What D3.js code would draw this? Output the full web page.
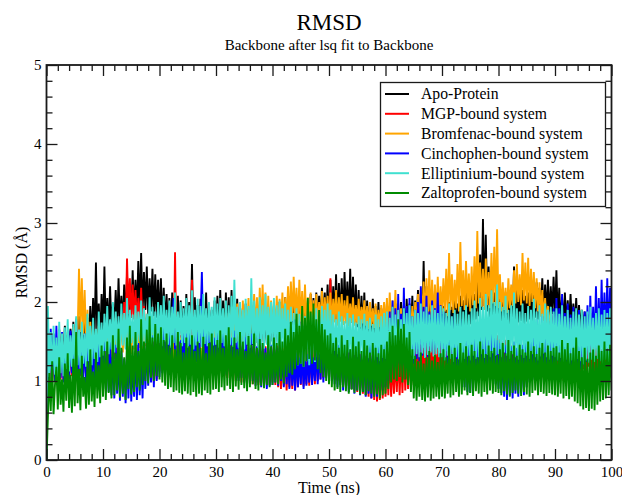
<!DOCTYPE html>
<html><head><meta charset="utf-8">
<script src="https://cdn.jsdelivr.net/npm/d3@7"></script>
<style>
html,body{margin:0;padding:0;background:#fff;}
svg{display:block;font-family:"Liberation Serif","Times New Roman",Times,serif;}
</style>
</head><body>
<svg id="c" width="622" height="495"></svg>
<script>
// ---------- data ----------
const TIME_STEP = 0.25; // ns between samples
const xTicks = [0,10,20,30,40,50,60,70,80,90,100];
const yTicks = [0,1,2,3,4,5];
const seriesNames = ["Apo-Protein","MGP-bound system","Bromfenac-bound system","Cinchophen-bound system","Elliptinium-bound system","Zaltoprofen-bound system"];
const seriesColors = ["#000000","#ff0000","#ffa500","#0000ff","#40e0d0","#008b00"];

const apo = [
0.00,1.40,1.20,1.52,1.22,1.60,1.25,1.48,1.28,1.65,1.30,1.55,1.32,1.70,1.35,1.58,1.38,1.66,1.34,1.75,
1.40,1.68,1.36,1.82,1.42,1.72,1.45,1.90,1.48,1.80,1.44,1.95,1.50,2.05,1.52,2.50,1.55,1.98,1.50,2.10,
1.60,2.45,1.58,2.05,1.62,2.20,1.65,1.98,1.68,2.15,1.64,2.30,1.70,2.08,1.72,2.22,1.75,2.35,1.78,2.12,
1.80,2.40,1.82,2.28,1.85,2.52,1.88,2.62,1.86,2.38,1.90,2.45,1.84,2.30,1.88,2.42,1.82,2.35,1.80,2.28,
1.75,2.30,1.70,2.18,1.68,2.10,1.65,2.05,1.62,2.12,1.60,1.98,1.58,2.08,1.56,2.02,1.55,1.95,1.58,2.10,
1.54,2.00,1.56,2.48,1.52,2.06,1.55,1.96,1.50,2.04,1.54,1.92,1.52,2.12,1.50,1.98,1.53,1.90,1.50,2.02,
1.55,2.08,1.52,2.15,1.56,2.02,1.50,2.12,1.54,2.06,1.52,2.15,1.48,1.98,1.50,2.04,1.46,1.95,1.50,1.92,
1.48,1.98,1.45,1.90,1.50,1.96,1.46,1.88,1.48,1.94,1.44,1.90,1.47,1.98,1.45,1.92,1.48,1.88,1.46,1.95,
1.50,1.95,1.48,1.88,1.52,2.00,1.50,1.92,1.54,2.06,1.52,1.95,1.55,1.90,1.53,2.02,1.56,1.98,1.58,2.06,
1.55,1.94,1.60,2.04,1.58,1.98,1.62,2.10,1.60,2.05,1.64,2.12,1.66,2.08,1.68,2.18,1.70,2.12,1.72,2.22,
1.72,2.28,1.74,2.20,1.76,2.35,1.72,2.24,1.78,2.30,1.75,2.38,1.80,2.26,1.76,2.42,1.74,2.32,1.72,2.22,
1.68,2.15,1.65,2.08,1.62,2.12,1.60,2.02,1.58,1.96,1.60,2.04,1.56,1.95,1.55,2.00,1.54,1.92,1.52,1.98,
1.50,1.88,1.48,1.95,1.52,1.90,1.50,1.98,1.54,1.92,1.55,2.00,1.58,1.96,1.56,2.04,1.60,1.98,1.62,2.08,
1.58,2.02,1.64,2.15,1.62,2.10,1.66,2.52,1.64,2.20,1.60,2.08,1.62,2.02,1.58,2.05,1.56,1.96,1.55,2.00,
1.55,1.95,1.52,1.90,1.56,2.00,1.58,1.94,1.60,2.05,1.62,1.98,1.64,2.08,1.66,2.02,1.68,2.12,1.70,2.06,
1.72,2.15,1.74,2.10,1.78,2.25,1.82,2.60,1.90,3.05,1.95,2.85,1.88,2.45,1.78,2.20,1.74,2.12,1.72,2.08,
1.65,2.10,1.62,2.02,1.64,2.12,1.66,2.05,1.68,2.18,1.70,2.45,1.72,2.20,1.74,2.10,1.76,2.15,1.72,2.08,
1.75,2.12,1.78,2.20,1.74,2.16,1.80,2.25,1.78,2.18,1.82,2.30,1.80,2.22,1.84,2.28,1.82,2.20,1.85,2.32,
1.80,2.40,1.76,2.18,1.72,2.06,1.70,2.12,1.68,2.02,1.72,2.10,1.70,1.98,1.66,2.05,1.64,1.96,1.62,1.90,
1.60,1.88,1.58,1.84,1.56,1.86,1.54,1.80,1.52,1.84,1.50,1.78,1.52,1.82,1.48,1.76,1.50,1.80,1.48,1.82,1.50];

const mgp = [
0.00,1.20,0.95,1.35,0.98,1.28,1.00,1.40,0.97,1.32,1.02,1.44,1.00,1.30,1.04,1.38,1.02,1.46,1.06,1.34,
1.05,1.42,1.08,1.36,1.06,1.48,1.10,1.38,1.08,1.45,1.12,1.40,1.10,1.50,1.14,1.42,1.12,1.52,1.15,1.46,
1.18,1.50,1.20,1.56,1.22,1.48,1.25,1.62,1.28,1.58,1.30,1.70,1.40,1.85,1.50,2.00,1.60,2.55,1.85,2.30,
1.80,2.22,1.78,2.15,1.75,2.05,1.70,2.18,1.65,1.95,1.55,1.80,1.20,1.45,1.00,1.38,0.98,1.42,1.02,1.50,
1.12,1.55,1.15,1.60,1.18,1.52,1.20,1.62,1.22,1.75,1.26,2.63,1.30,1.70,1.28,1.58,1.25,1.62,1.30,1.55,
1.32,1.65,1.35,2.28,1.30,1.48,1.15,1.38,1.08,1.32,1.05,1.40,1.06,1.28,1.08,1.35,1.10,1.42,1.12,1.48,
1.12,1.48,1.08,1.52,1.10,1.44,1.06,1.50,1.04,1.42,1.08,1.46,1.02,1.48,1.00,1.40,1.04,1.45,0.98,1.42,
1.00,1.46,0.97,1.38,1.02,1.44,0.96,1.40,0.98,1.36,0.95,1.42,0.97,1.38,0.94,1.44,0.96,1.40,0.95,1.36,
0.98,1.40,0.95,1.45,0.92,1.38,0.90,1.42,0.94,1.36,0.88,1.40,0.92,1.35,0.90,1.44,0.88,1.38,0.92,2.05,
0.95,1.42,0.93,1.38,0.96,1.46,0.94,1.40,0.98,1.50,0.96,1.44,1.00,1.48,1.02,1.42,1.04,1.52,1.06,1.60,
1.08,2.30,1.05,1.55,1.02,1.48,1.00,1.45,0.98,1.42,0.95,1.46,0.92,1.40,0.94,1.38,0.90,1.42,0.88,1.35,
0.86,1.40,0.88,1.34,0.84,1.38,0.82,1.30,0.80,1.34,0.78,1.28,0.76,1.32,0.74,1.26,0.76,1.30,0.78,1.25,
0.80,1.28,0.82,1.34,0.80,1.25,0.84,1.30,0.86,1.36,0.82,1.32,0.85,1.40,0.88,1.35,0.90,1.42,0.92,1.38,
0.95,1.45,0.98,1.40,1.00,1.46,1.02,1.42,1.04,1.48,1.00,1.44,1.02,1.50,1.05,1.46,1.03,1.42,1.06,1.48,
1.05,1.42,1.08,1.38,1.06,1.45,1.10,1.40,1.08,1.44,1.12,1.38,1.10,1.46,1.14,1.42,1.12,1.48,1.16,1.44,
1.18,1.50,1.20,1.56,1.22,1.52,1.24,1.60,1.26,1.58,1.28,1.64,1.25,1.60,1.28,1.66,1.24,1.62,1.22,1.58,
1.20,1.55,1.22,1.50,1.18,1.52,1.20,1.48,1.16,1.45,1.12,1.40,1.10,1.36,1.08,1.38,1.05,1.32,1.06,1.35,
1.04,1.30,1.02,1.34,1.05,1.28,1.00,1.32,1.03,1.36,1.00,1.30,1.04,1.34,1.02,1.28,1.06,1.32,1.04,1.36,
1.06,1.38,1.04,1.32,1.02,1.36,1.00,1.30,1.04,1.34,1.02,1.38,1.06,1.32,1.08,1.40,1.10,1.36,1.12,1.44,
1.15,1.48,1.12,1.52,1.18,1.45,1.14,1.50,1.10,1.42,1.12,1.46,1.08,1.40,1.10,1.38,1.06,1.42,1.08,1.36,1.10];

const bromfenac = [
0.00,1.32,1.12,1.48,1.15,1.40,1.18,1.55,1.20,1.45,1.22,1.58,1.25,1.50,1.28,1.62,1.30,1.55,1.35,1.68,
1.40,1.80,1.55,2.42,1.62,2.30,1.58,2.15,1.48,1.90,1.40,1.75,1.32,1.66,1.30,1.58,1.34,1.70,1.28,1.62,
1.32,1.70,1.28,1.64,1.35,1.76,1.30,1.68,1.38,1.80,1.33,1.72,1.40,1.84,1.36,1.74,1.42,1.70,1.38,1.82,
1.34,1.75,1.40,1.86,1.36,1.72,1.42,1.80,1.38,1.78,1.44,1.85,1.40,1.74,1.45,1.82,1.38,1.76,1.42,1.84,
1.40,1.78,1.36,1.72,1.38,1.80,1.34,1.70,1.32,1.66,1.28,1.62,1.30,1.58,1.25,1.55,1.22,1.50,1.18,1.46,
1.15,1.42,1.12,1.38,1.10,1.44,1.08,1.40,1.12,1.46,1.15,1.50,1.20,1.48,1.25,1.55,1.30,1.62,1.34,1.70,
1.40,1.78,1.44,1.84,1.48,1.80,1.46,1.90,1.50,1.86,1.52,1.94,1.48,1.88,1.54,1.98,1.56,1.92,1.52,2.02,
1.58,1.96,1.55,2.05,1.60,2.00,1.57,2.10,1.62,2.06,1.60,2.18,1.64,2.22,1.60,2.12,1.58,2.08,1.62,2.02,
1.60,2.00,1.64,2.08,1.68,2.04,1.70,2.12,1.66,2.06,1.72,2.20,1.74,2.26,1.76,2.32,1.78,2.18,1.72,2.28,
1.75,2.14,1.70,2.22,1.68,2.06,1.72,2.12,1.66,2.02,1.70,2.10,1.68,2.00,1.72,2.14,1.70,2.06,1.74,2.08,
1.72,2.12,1.68,2.04,1.74,2.15,1.70,2.06,1.75,2.10,1.71,2.02,1.73,2.08,1.69,1.98,1.74,2.06,1.70,1.96,
1.72,2.04,1.68,1.94,1.73,2.02,1.70,1.95,1.66,2.00,1.70,1.92,1.67,1.98,1.64,1.90,1.68,1.96,1.65,2.00,
1.64,2.05,1.62,2.12,1.66,2.02,1.60,2.15,1.64,1.98,1.58,1.92,1.55,1.88,1.58,1.85,1.52,1.90,1.56,1.95,
1.62,2.00,1.68,2.10,1.72,2.18,1.76,2.26,1.74,2.30,1.78,2.40,1.80,2.28,1.76,2.22,1.78,2.32,1.80,2.20,
1.85,2.30,1.88,2.42,1.82,2.62,1.90,2.35,1.86,2.28,1.92,2.48,1.88,2.76,1.95,2.40,1.90,2.52,1.94,2.36,
1.88,2.45,1.96,2.58,1.92,2.90,1.98,2.50,1.94,2.42,1.90,2.55,1.96,2.38,1.92,2.62,1.98,2.70,1.95,2.92,
1.92,2.35,1.88,2.25,1.90,2.18,1.86,2.30,1.92,2.22,1.95,2.40,1.98,2.48,2.00,2.35,1.96,2.62,2.02,2.50,
1.98,2.56,1.95,2.42,2.00,2.38,1.92,2.30,1.88,2.25,1.82,2.15,1.76,2.05,1.70,1.95,1.65,1.88,1.60,1.85,
1.55,1.82,1.50,1.76,1.52,1.72,1.48,1.78,1.46,1.70,1.50,1.75,1.44,1.68,1.48,1.74,1.42,1.70,1.46,1.78,
1.40,1.72,1.44,1.66,1.42,1.74,1.46,1.70,1.40,1.76,1.45,1.82,1.48,1.74,1.44,1.80,1.50,1.76,1.46,1.78,1.50];

const cinchophen = [
0.00,1.45,1.02,1.66,1.05,1.58,1.00,1.70,1.08,1.52,1.04,1.62,0.98,1.48,1.06,1.56,1.02,1.64,1.10,1.50,
1.04,1.78,1.00,1.55,1.08,1.46,1.02,1.60,0.96,1.52,1.05,1.42,1.00,1.58,0.94,1.48,1.02,1.54,0.98,1.62,
0.95,1.50,0.90,1.42,0.86,1.55,0.82,1.38,0.78,1.46,0.84,1.30,0.75,1.40,0.80,1.28,0.72,1.36,0.78,1.44,
0.74,1.25,0.80,1.38,0.76,1.48,0.82,1.34,0.78,1.42,0.90,1.52,0.94,1.46,0.98,1.58,0.92,1.62,1.00,1.55,
1.05,1.62,1.10,1.70,1.08,1.55,1.12,1.66,1.15,1.58,2.05,1.40,1.12,1.64,1.18,1.52,1.14,1.72,1.20,1.60,
1.16,1.68,1.22,1.56,1.18,1.74,1.24,1.62,1.20,1.70,2.38,1.50,1.25,1.66,1.22,1.58,1.18,1.64,1.20,1.55,
1.15,1.62,1.10,1.56,1.14,1.68,1.08,1.52,1.12,1.60,1.06,1.55,1.02,1.64,1.08,1.50,1.00,1.58,1.04,1.48,
0.98,1.56,1.02,1.46,0.96,1.60,1.00,1.52,0.94,1.44,0.98,1.55,0.92,1.48,0.96,1.42,0.90,1.52,0.94,1.46,
0.95,1.50,0.98,1.42,0.94,1.48,1.00,1.36,0.92,1.44,0.96,1.32,0.90,1.40,0.94,1.28,0.88,1.36,0.92,1.30,
0.96,1.38,0.90,1.26,0.94,1.34,0.98,1.42,0.95,1.30,1.00,1.45,0.96,1.38,1.02,1.50,0.98,1.44,1.04,1.55,
1.05,1.60,1.00,1.52,0.96,1.58,0.92,1.46,0.95,1.54,0.88,1.42,0.92,1.50,0.86,1.40,0.90,1.48,0.84,1.44,
0.88,1.52,0.82,1.38,0.86,1.46,0.80,1.42,0.84,1.50,0.78,1.36,0.82,1.46,0.80,1.55,0.84,1.48,0.88,1.62,
0.92,1.75,1.00,1.88,1.08,2.02,1.12,1.92,1.18,2.10,1.22,1.85,1.20,2.18,1.26,1.95,1.30,2.05,1.24,1.82,
1.22,1.90,1.28,2.00,1.25,2.20,1.32,1.94,1.36,2.08,1.30,1.88,1.38,2.02,1.34,1.92,1.40,2.12,1.32,1.96,
1.30,1.88,1.26,1.80,1.22,1.92,1.28,1.76,1.20,1.84,1.16,1.72,1.12,1.78,1.05,1.65,0.92,1.58,0.86,1.50,
0.85,1.62,0.90,1.55,1.02,1.70,1.08,1.64,1.12,1.76,1.06,1.68,1.10,1.60,1.04,1.72,1.00,1.58,0.96,1.52,
0.90,1.48,0.85,1.40,0.80,1.46,0.76,1.38,0.82,1.44,0.78,1.50,0.84,1.42,0.80,1.52,0.86,1.46,0.82,1.55,
0.92,1.62,0.98,1.70,1.02,1.58,1.06,1.78,1.04,1.66,1.10,1.82,1.08,1.72,1.14,1.88,1.12,1.76,1.18,1.92,
1.20,2.05,1.25,1.92,1.22,2.10,1.18,1.86,1.24,1.98,1.20,1.84,1.16,1.94,1.22,1.80,1.18,1.90,1.15,1.78,
1.20,1.88,1.24,1.96,1.30,2.08,1.36,1.94,1.42,2.20,1.40,2.05,1.45,2.28,1.48,2.12,1.44,2.30,1.50,2.18,1.52];

const elliptinium = [
0.00,1.95,1.05,1.62,1.00,1.70,1.08,1.55,1.02,1.75,1.10,1.60,1.06,1.68,1.15,1.78,1.12,1.58,1.18,1.72,
1.14,1.82,1.20,1.65,1.16,1.75,1.22,1.60,1.18,1.85,1.25,1.70,1.20,1.80,1.28,1.66,1.24,1.88,1.30,1.74,
1.32,1.85,1.38,1.95,1.34,1.78,1.40,2.00,1.36,1.88,1.42,1.82,1.38,1.98,1.45,1.86,1.40,2.05,1.44,1.90,
1.48,1.84,1.42,1.96,1.46,1.88,1.50,2.02,1.44,1.92,1.48,1.85,1.52,2.06,1.46,1.94,1.50,1.88,1.45,2.00,
1.48,1.96,1.44,2.08,1.50,1.90,1.46,2.02,1.42,1.94,1.48,2.12,1.45,1.88,1.50,2.00,1.44,1.92,1.48,2.05,
1.42,1.96,1.46,2.15,1.40,1.90,1.45,2.04,1.48,1.95,1.43,2.10,1.47,1.92,1.44,2.00,1.49,1.94,1.45,2.06,
1.46,1.98,1.42,2.05,1.48,1.92,1.44,2.02,1.40,1.96,1.46,2.08,1.43,2.28,1.48,1.94,1.42,2.00,1.45,1.90,
1.40,2.04,1.46,1.95,1.42,2.30,1.47,2.02,1.44,1.92,1.40,2.06,1.45,1.96,1.41,2.10,1.46,1.94,1.42,2.00,
1.44,2.05,1.40,1.96,1.45,2.02,1.38,1.92,1.42,1.98,1.36,1.90,1.30,1.94,1.32,1.86,1.24,1.92,1.20,1.85,
1.22,1.88,1.18,1.82,1.25,1.90,1.20,1.86,1.28,1.84,1.24,1.92,1.30,1.88,1.34,1.95,1.38,1.90,1.36,1.98,
1.36,1.90,1.32,1.84,1.38,1.78,1.34,1.88,1.30,1.82,1.35,1.76,1.31,1.86,1.36,1.80,1.28,1.84,1.33,1.74,
1.30,1.82,1.34,1.78,1.27,1.85,1.32,1.76,1.29,1.80,1.33,1.72,1.26,1.84,1.30,1.78,1.25,1.82,1.29,1.86,
1.28,1.88,1.24,1.80,1.30,1.94,1.26,1.84,1.22,1.90,1.28,1.78,1.25,1.92,1.31,1.86,1.27,1.96,1.32,1.82,
1.28,1.90,1.34,1.86,1.30,1.98,1.35,1.88,1.29,1.94,1.33,1.84,1.36,1.96,1.31,1.90,1.34,1.86,1.30,1.95,
1.30,1.92,1.26,1.86,1.32,1.98,1.28,1.82,1.24,1.90,1.30,1.85,1.27,1.94,1.22,1.88,1.28,1.96,1.31,1.84,
1.26,1.92,1.32,2.02,1.28,1.88,1.30,2.05,1.34,1.94,1.29,2.10,1.33,1.96,1.30,2.15,1.35,2.00,1.32,2.22,
1.34,2.00,1.30,1.94,1.36,2.08,1.32,1.90,1.28,1.96,1.34,2.12,1.30,1.92,1.27,1.88,1.33,1.98,1.29,1.86,
1.32,1.95,1.28,1.90,1.34,2.04,1.30,1.88,1.26,1.96,1.31,1.85,1.35,1.98,1.30,1.90,1.27,1.94,1.32,1.88,
1.30,1.92,1.26,1.85,1.29,1.96,1.24,1.82,1.27,1.90,1.22,1.80,1.26,1.88,1.23,1.92,1.28,1.84,1.25,1.90,
1.21,1.82,1.26,1.88,1.23,1.94,1.27,1.80,1.24,1.86,1.28,1.92,1.25,1.84,1.22,1.90,1.27,1.86,1.24,1.92,1.30];

const zaltoprofen = [
0.00,0.55,1.10,0.62,1.25,0.58,0.95,1.18,0.64,1.30,0.70,1.02,0.61,1.22,0.75,1.35,0.66,1.08,0.60,1.28,
0.68,1.62,0.72,1.15,0.63,1.32,0.80,1.05,0.65,1.25,0.70,1.40,0.74,1.12,0.67,1.36,0.78,1.20,0.72,1.45,
0.80,1.38,0.76,1.50,0.85,1.22,0.78,1.58,0.82,1.35,0.88,1.66,0.79,1.42,0.84,1.30,0.76,1.55,0.90,1.70,
0.83,1.45,0.86,1.62,0.92,1.38,0.88,1.78,0.95,1.50,1.00,1.65,0.97,1.82,1.04,1.55,1.00,1.72,1.06,1.60,
1.02,1.68,0.98,1.52,0.94,1.60,0.90,1.45,0.92,1.58,0.86,1.40,0.88,1.62,0.85,1.48,0.83,1.36,0.87,1.55,
0.84,1.44,0.82,1.58,0.86,1.38,0.80,1.50,0.84,1.42,0.82,1.56,0.88,1.35,0.85,1.48,0.83,1.60,0.89,1.45,
0.90,1.52,0.86,1.64,0.92,1.42,0.88,1.58,0.94,1.68,0.90,1.45,0.86,1.55,0.93,1.40,0.89,1.62,0.95,1.50,
0.91,1.38,0.87,1.57,0.92,1.46,0.96,1.60,0.90,1.42,0.88,1.53,0.94,1.48,0.91,1.36,0.95,1.58,0.92,1.44,
0.95,1.55,0.98,1.48,0.96,1.62,1.02,1.50,0.97,1.66,1.05,1.58,1.10,1.75,1.08,1.62,1.15,1.85,1.20,1.70,
1.22,1.95,1.18,1.80,1.25,2.05,1.28,1.88,1.22,1.98,1.26,1.78,1.15,1.90,1.10,1.72,1.05,1.65,1.00,1.58,
0.96,1.60,0.92,1.48,0.88,1.55,0.90,1.42,0.86,1.58,0.92,1.46,0.87,1.52,0.84,1.40,0.89,1.56,0.85,1.44,
0.88,1.50,0.83,1.38,0.86,1.52,0.82,1.45,0.87,1.36,0.84,1.48,0.80,1.42,0.83,1.35,0.78,1.46,0.82,1.40,
0.84,1.50,0.90,1.62,0.98,1.70,1.02,1.58,1.00,1.78,1.05,1.66,0.98,1.72,1.02,1.55,0.95,1.62,0.86,1.40,
0.78,1.32,0.75,1.25,0.80,1.36,0.76,1.22,0.74,1.30,0.79,1.38,0.75,1.26,0.78,1.33,0.80,1.24,0.77,1.35,
0.80,1.40,0.78,1.30,0.84,1.45,0.79,1.34,0.82,1.42,0.86,1.28,0.80,1.48,0.83,1.36,0.88,1.44,0.82,1.32,
0.85,1.46,0.81,1.38,0.87,1.30,0.84,1.50,0.80,1.40,0.86,1.34,0.83,1.45,0.88,1.38,0.84,1.42,0.86,1.33,
0.85,1.40,0.82,1.48,0.87,1.35,0.83,1.52,0.80,1.38,0.85,1.45,0.88,1.32,0.84,1.46,0.81,1.40,0.86,1.36,
0.83,1.50,0.80,1.38,0.85,1.44,0.88,1.34,0.82,1.42,0.86,1.48,0.84,1.36,0.81,1.45,0.85,1.38,0.83,1.42,
0.82,1.44,0.80,1.36,0.84,1.52,0.78,1.40,0.81,1.48,0.77,1.35,0.80,1.42,0.74,1.55,0.72,1.38,0.68,1.30,
0.64,1.42,0.66,1.28,0.62,1.36,0.65,1.40,0.63,1.32,0.70,1.45,0.74,1.38,0.76,1.50,0.78,1.40,0.82,1.46,0.88];

const seriesValues = [apo, mgp, bromfenac, cinchophen, elliptinium, zaltoprofen];

// ---------- layout ----------
const svg = d3.select("#c");
const W = 622, H = 495;
const plot = {left: 46.5, right: 611.5, top: 65, bottom: 460};
const x = d3.scaleLinear().domain([0, 100]).range([plot.left, plot.right]);
const y = d3.scaleLinear().domain([0, 5]).range([plot.bottom, plot.top]);

svg.append("rect").attr("width", W).attr("height", H).attr("fill", "#fff");

svg.append("defs").append("clipPath").attr("id", "clip")
  .append("rect").attr("x", plot.left).attr("y", plot.top)
  .attr("width", plot.right - plot.left).attr("height", plot.bottom - plot.top);

// series
const line = d3.line().x((d, i) => x(i * TIME_STEP)).y(d => y(d));
const gData = svg.append("g").attr("clip-path", "url(#clip)");
seriesValues.forEach((vals, k) => {
  gData.append("path").datum(vals)
    .attr("d", line)
    .attr("fill", "none")
    .attr("stroke", seriesColors[k])
    .attr("stroke-width", 1.9)
    .attr("stroke-linejoin", "bevel");
});

// axes (inward ticks on all four sides)
const axisColor = "#1a1a1a";
function styleAxis(g) {
  g.select(".domain").remove();
  g.selectAll(".tick line").attr("stroke", axisColor).attr("stroke-width", 1.3);
  g.selectAll(".tick text").attr("fill", "#000").attr("font-size", 15)
    .attr("font-family", '"Liberation Serif","Times New Roman",serif');
}
const xMinor = d3.range(0, 101, 2).filter(v => v % 10 !== 0);
const yMinor = d3.range(0, 5.01, 0.2).map(v => +v.toFixed(1)).filter(v => Math.abs(v - Math.round(v)) > 1e-6);

svg.append("g").attr("transform", `translate(0,${plot.bottom})`)
  .call(d3.axisBottom(x).tickValues(xTicks).tickSize(-11).tickSizeOuter(0).tickPadding(5).tickFormat(d3.format("d")))
  .call(styleAxis).call(g => g.selectAll(".tick text").attr("dy", "0.8em"));
svg.append("g").attr("transform", `translate(0,${plot.bottom})`)
  .call(d3.axisBottom(x).tickValues(xMinor).tickSize(-6).tickSizeOuter(0).tickFormat(""))
  .call(styleAxis);
svg.append("g").attr("transform", `translate(0,${plot.top})`)
  .call(d3.axisTop(x).tickValues(xTicks).tickSize(-11).tickSizeOuter(0).tickFormat(""))
  .call(styleAxis);
svg.append("g").attr("transform", `translate(0,${plot.top})`)
  .call(d3.axisTop(x).tickValues(xMinor).tickSize(-6).tickSizeOuter(0).tickFormat(""))
  .call(styleAxis);
svg.append("g").attr("transform", `translate(${plot.left},0)`)
  .call(d3.axisLeft(y).tickValues(yTicks).tickSize(-11).tickSizeOuter(0).tickPadding(5).tickFormat(d3.format("d")))
  .call(styleAxis);
svg.append("g").attr("transform", `translate(${plot.left},0)`)
  .call(d3.axisLeft(y).tickValues(yMinor).tickSize(-6).tickSizeOuter(0).tickFormat(""))
  .call(styleAxis);
svg.append("g").attr("transform", `translate(${plot.right},0)`)
  .call(d3.axisRight(y).tickValues(yTicks).tickSize(-11).tickSizeOuter(0).tickFormat(""))
  .call(styleAxis);
svg.append("g").attr("transform", `translate(${plot.right},0)`)
  .call(d3.axisRight(y).tickValues(yMinor).tickSize(-6).tickSizeOuter(0).tickFormat(""))
  .call(styleAxis);

// frame
svg.append("rect")
  .attr("x", plot.left).attr("y", plot.top)
  .attr("width", plot.right - plot.left).attr("height", plot.bottom - plot.top)
  .attr("fill", "none").attr("stroke", axisColor).attr("stroke-width", 1.8);

// titles
svg.append("text").attr("x", 329).attr("y", 30).attr("text-anchor", "middle")
  .attr("font-size", 23).text("RMSD");
svg.append("text").attr("x", 329).attr("y", 50).attr("text-anchor", "middle")
  .attr("font-size", 15).text("Backbone after lsq fit to Backbone");
svg.append("text").attr("x", (plot.left + plot.right) / 2).attr("y", 493).attr("text-anchor", "middle")
  .attr("font-size", 16).text("Time (ns)");
svg.append("text").attr("transform", `translate(27,${(plot.top + plot.bottom) / 2}) rotate(-90)`)
  .attr("text-anchor", "middle").attr("font-size", 16).text("RMSD (Å)");

// legend
const lg = svg.append("g");
lg.append("rect").attr("x", 380.5).attr("y", 82.5).attr("width", 225).attr("height", 124)
  .attr("fill", "#fff").attr("stroke", axisColor).attr("stroke-width", 1.3);
seriesNames.forEach((name, k) => {
  const yy = 94 + k * 19.8;
  lg.append("line").attr("x1", 385).attr("x2", 409).attr("y1", yy).attr("y2", yy)
    .attr("stroke", seriesColors[k]).attr("stroke-width", 2);
  lg.append("text").attr("x", 421).attr("y", yy).attr("dy", "0.34em")
    .attr("font-size", 15.7).text(name);
});
</script>
</body></html>
